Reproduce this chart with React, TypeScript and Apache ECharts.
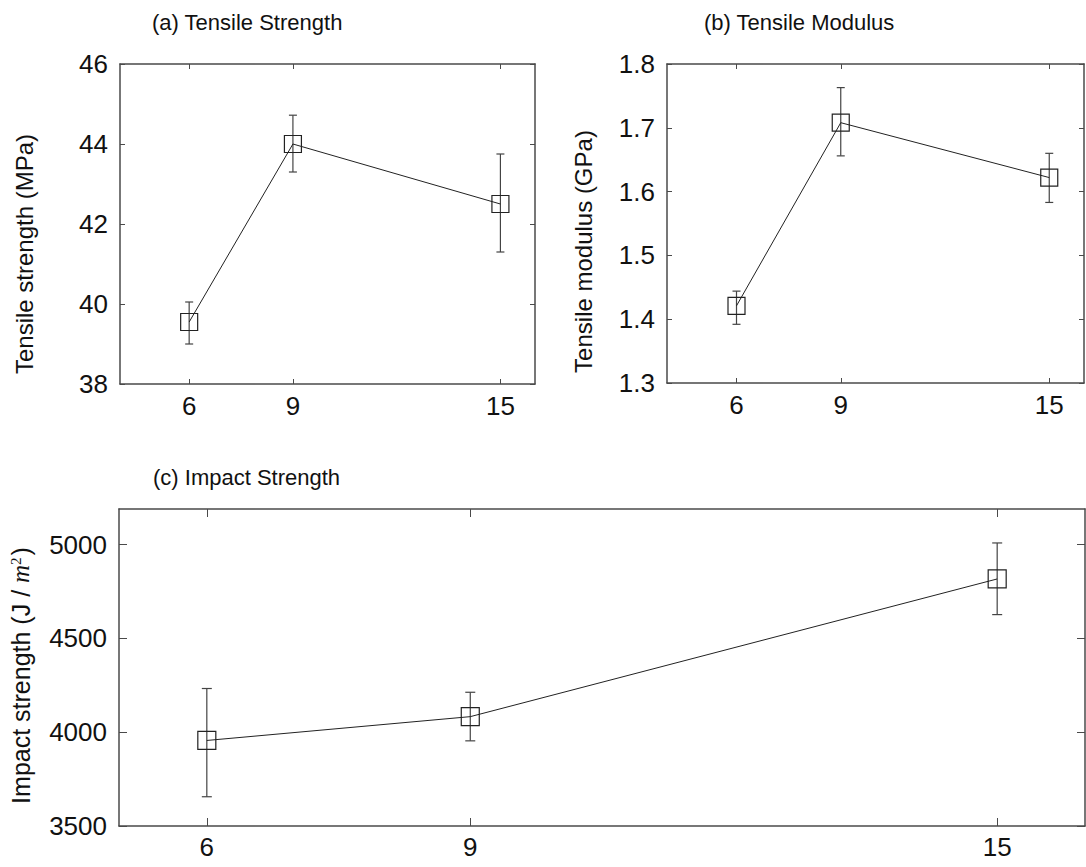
import React, { useEffect, useRef } from "react";
import * as echarts from "echarts";

// ---- data ----
const xValues = [6, 9, 15];

const strengthMean = [39.55, 44.0, 42.5];
const strengthLow = [39.0, 43.3, 41.3];
const strengthHigh = [40.05, 44.72, 43.75];

const modulusMean = [1.421, 1.708, 1.622];
const modulusLow = [1.392, 1.656, 1.583];
const modulusHigh = [1.444, 1.763, 1.66];

const impactMean = [3956, 4083, 4817];
const impactLow = [3656, 3954, 4627];
const impactHigh = [4233, 4213, 5009];

const strengthTicks = [38, 40, 42, 44, 46];
const modulusTicks = [1.3, 1.4, 1.5, 1.6, 1.7, 1.8];
const impactTicks = [3500, 4000, 4500, 5000];

const titles = ["(a) Tensile Strength", "(b) Tensile Modulus", "(c) Impact Strength"];

const FONT = "'Liberation Sans', Arial, Helvetica, sans-serif";
const AXIS_COLOR = "#4a4a4a";

function xAxes(gridIndex: number, min: number, max: number, tickLen: number, labelMargin: number) {
  const common = {
    type: "value",
    gridIndex,
    min,
    max,
    splitLine: { show: false },
    axisLine: { show: true, onZero: false, lineStyle: { color: AXIS_COLOR, width: 1.5 } },
    axisTick: { show: true, inside: true, length: tickLen, customValues: xValues, lineStyle: { color: AXIS_COLOR, width: 1 } },
  };
  return [
    {
      ...common,
      position: "bottom",
      axisLabel: { show: true, customValues: xValues, fontSize: 26, color: "#111", fontFamily: FONT, margin: labelMargin },
    },
    { ...common, position: "top", axisLabel: { show: false } },
  ];
}

function yAxes(
  gridIndex: number,
  min: number,
  max: number,
  ticks: number[],
  tickLen: number,
  decimals: number,
  name: string,
  nameGap: number,
  nameFontSize: number,
  shiftDown: number,
  rich?: any
) {
  const common = {
    type: "value",
    gridIndex,
    min,
    max,
    splitLine: { show: false },
    axisLine: { show: true, onZero: false, lineStyle: { color: AXIS_COLOR, width: 1.5 } },
    axisTick: { show: true, inside: true, length: tickLen, customValues: ticks, lineStyle: { color: AXIS_COLOR, width: 1 } },
  };
  return [
    {
      ...common,
      position: "left",
      name,
      nameLocation: "middle",
      nameGap,
      nameTextStyle: {
        fontSize: nameFontSize,
        color: "#111",
        fontFamily: FONT,
        padding: [0, shiftDown * 2, 0, 0],
        rich,
      },
      axisLabel: {
        show: true,
        customValues: ticks,
        fontSize: 26,
        color: "#111",
        fontFamily: FONT,
        margin: 12,
        formatter: (v: number) => v.toFixed(decimals),
      },
    },
    { ...common, position: "right", axisLabel: { show: false } },
  ];
}

function panelSeries(idx: number, mean: number[], low: number[], high: number[], cap: number, symbolSize: number) {
  return [
    {
      type: "custom",
      xAxisIndex: idx * 2,
      yAxisIndex: idx * 2,
      data: xValues.map((x, i) => [x, low[i], high[i]]),
      encode: { x: 0, y: [1, 2] },
      z: 2,
      renderItem: (params: any, api: any) => {
        const x = api.value(0);
        const pLo = api.coord([x, api.value(1)]);
        const pHi = api.coord([x, api.value(2)]);
        const st = { stroke: "#444", lineWidth: 1.2 };
        return {
          type: "group",
          children: [
            { type: "line", shape: { x1: pLo[0], y1: pLo[1], x2: pHi[0], y2: pHi[1] }, style: st },
            { type: "line", shape: { x1: pLo[0] - cap, y1: pLo[1], x2: pLo[0] + cap, y2: pLo[1] }, style: st },
            { type: "line", shape: { x1: pHi[0] - cap, y1: pHi[1], x2: pHi[0] + cap, y2: pHi[1] }, style: st },
          ],
        };
      },
    },
    {
      type: "line",
      xAxisIndex: idx * 2,
      yAxisIndex: idx * 2,
      data: xValues.map((x, i) => [x, mean[i]]),
      symbol: "rect",
      symbolSize,
      showSymbol: true,
      z: 3,
      itemStyle: { color: "none", borderColor: "#222", borderWidth: 1.2 },
      lineStyle: { color: "#222", width: 1 },
    },
  ];
}

export default function App() {
  const ref = useRef<HTMLDivElement>(null);
  useEffect(() => {
    if (!ref.current) return;
    const chart = echarts.init(ref.current, undefined, { renderer: "svg" });
    const titleStyle = { fontSize: 22, fontWeight: "normal", color: "#111", fontFamily: FONT };
    const option: any = {
      animation: false,
      backgroundColor: "#fff",
      title: [
        { text: titles[0], left: 147, top: 6, textStyle: titleStyle },
        { text: titles[1], left: 699, top: 6, textStyle: titleStyle },
        { text: titles[2], left: 148, top: 461, textStyle: titleStyle },
      ],
      grid: [
        { left: 120, right: 551, top: 64, bottom: 483 },
        { left: 667, right: 2, top: 64, bottom: 484 },
        { left: 119, right: 1, top: 509, bottom: 41 },
      ],
      xAxis: [...xAxes(0, 4, 16, 5, 9), ...xAxes(1, 4, 16, 5, 9), ...xAxes(2, 5, 16, 8, 8)],
      yAxis: [
        ...yAxes(0, 38, 46, strengthTicks, 5, 0, "Tensile strength (MPa)", 84, 24, 30),
        ...yAxes(1, 1.3, 1.8, modulusTicks, 5, 1, "Tensile modulus (GPa)", 72, 24, 28),
        ...yAxes(2, 3500, 5190, impactTicks, 8, 0, "Impact strength (J / {it|m}{sup|2})", 86, 25, 8, {
          it: { fontSize: 25, fontStyle: "italic", fontFamily: "'Liberation Serif', 'DejaVu Serif', serif", color: "#111" },
          sup: { fontSize: 15, fontFamily: "'Liberation Serif', 'DejaVu Serif', serif", color: "#111", verticalAlign: "top", padding: [0, 2, 8, 0] },
        }),
      ],
      series: [
        ...panelSeries(0, strengthMean, strengthLow, strengthHigh, 4, 17),
        ...panelSeries(1, modulusMean, modulusLow, modulusHigh, 4, 17),
        ...panelSeries(2, impactMean, impactLow, impactHigh, 5, 18),
      ],
    };
    chart.setOption(option);
    return () => chart.dispose();
  }, []);
  return (
    <div
      ref={ref}
      style={{ position: "absolute", left: 0, top: 0, width: 1086, height: 867, background: "#fff" }}
    />
  );
}
